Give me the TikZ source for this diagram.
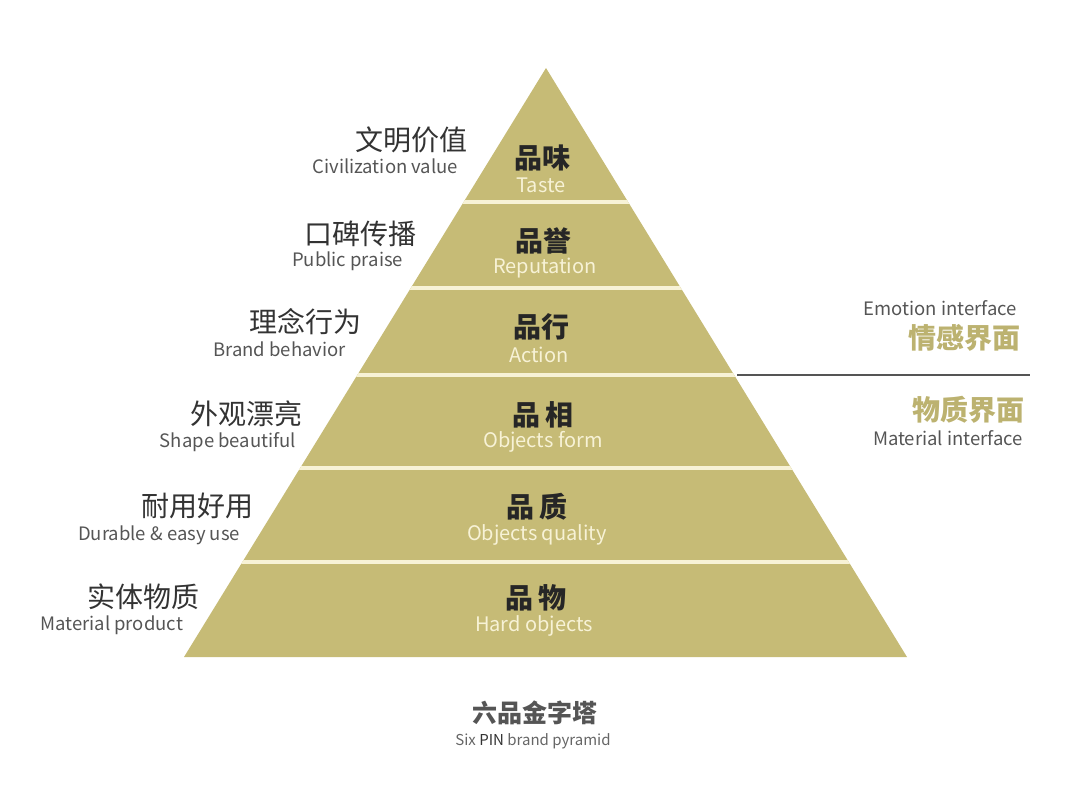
\documentclass[tikz,border=0pt]{standalone}
\usepackage{fontspec}
\setmainfont{Noto Sans CJK SC}
\usepackage{tikz}
\usetikzlibrary{positioning,calc}
\usepackage{xcolor}
\definecolor{gold}{HTML}{C6BB76}
\definecolor{cream}{HTML}{F7F2D6}
\definecolor{ink}{HTML}{333333}
\definecolor{grey}{HTML}{555555}

\begin{document}
\begin{tikzpicture}[
  x=1pt, y=-1pt,
  every node/.style={inner sep=0pt, outer sep=0pt},
  zh/.style={font=\fontsize{28}{30}\selectfont, text=ink, anchor=east},
  en/.style={font=\fontsize{18.5}{20}\selectfont, text=grey, anchor=east},
  tierzh/.style={font=\fontsize{28}{30}\selectfont\bfseries, text=black!85},
  tieren/.style={font=\fontsize{20}{22}\selectfont, text=cream},
  sidezh/.style={font=\fontsize{28}{30}\selectfont\bfseries, text=gold!95!black, anchor=east},
  sep/.style={draw=cream, line width=4pt},
]
\useasboundingbox (0,0) rectangle (1080,787);

% pyramid
\coordinate (apex) at (546,68);
\coordinate (baseL) at (184,657);
\coordinate (baseR) at (907,657);
\fill[gold] (apex) -- (baseL) -- (baseR) -- cycle;
\begin{scope}
  \clip (apex) -- (baseL) -- (baseR) -- cycle;
  \foreach \y in {202,288,375,468,562}
    \draw[sep] (150,\y) -- (950,\y);
\end{scope}

% tiers
\node[tierzh] (t1) at (542,158) {品味};
\node[tieren] (t1e) at (541,185) {Taste};
\node[tierzh] (t2) at (543,241) {品誉};
\node[tieren] (t2e) at (545,268) {Reputation};
\node[tierzh] (t3) at (541,327) {品行};
\node[tieren] (t3e) at (539,355) {Action};
\node[tierzh] (t4) at (543,415) {品\,相};
\node[tieren] (t4e) at (543,442) {Objects form};
\node[tierzh] (t5) at (537,507) {品\,质};
\node[tieren] (t5e) at (537,535) {Objects quality};
\node[tierzh] (t6) at (536,598) {品\,物};
\node[tieren] (t6e) at (534,626) {Hard objects};

% left labels
\node[zh] (l1) at (467,140) {文明价值};
\node[en] (l1e) at (458,166) {Civilization value};
\node[zh] (l2) at (416,234) {口碑传播};
\node[en] (l2e) at (403,261) {Public praise};
\node[zh] (l3) at (361,322) {理念行为};
\node[en] (l3e) at (346,349) {Brand behavior};
\node[zh] (l4) at (302,414) {外观漂亮};
\node[en] (l4e) at (296,442) {Shape beautiful};
\node[zh] (l5) at (253,506) {耐用好用};
\node[en] (l5e) at (240,535) {Durable \& easy use};
\node[zh] (l6) at (199,597) {实体物质};
\node[en] (l6e) at (183,625) {Material product};

% interfaces
\node[en] (emo) at (1017,308) {Emotion interface};
\node[sidezh] (emozh) at (1020,338) {情感界面};
\coordinate (divL) at (737,375);
\coordinate (divR) at (1030,375);
\draw[grey, line width=2.5pt] (divL) -- (divR);
\node[sidezh] (matzh) at (1024,410) {物质界面};
\node[en] (mat) at (1023,438) {Material interface};

% title
\node[font=\fontsize{25}{27}\selectfont\bfseries, text=grey] (title) at (535,713) {六品金字塔};
\node[font=\fontsize{15}{17}\selectfont, text=grey!90] (sub) at (533,741) {Six \textcolor{ink}{PIN} brand pyramid};

\end{tikzpicture}
\end{document}
